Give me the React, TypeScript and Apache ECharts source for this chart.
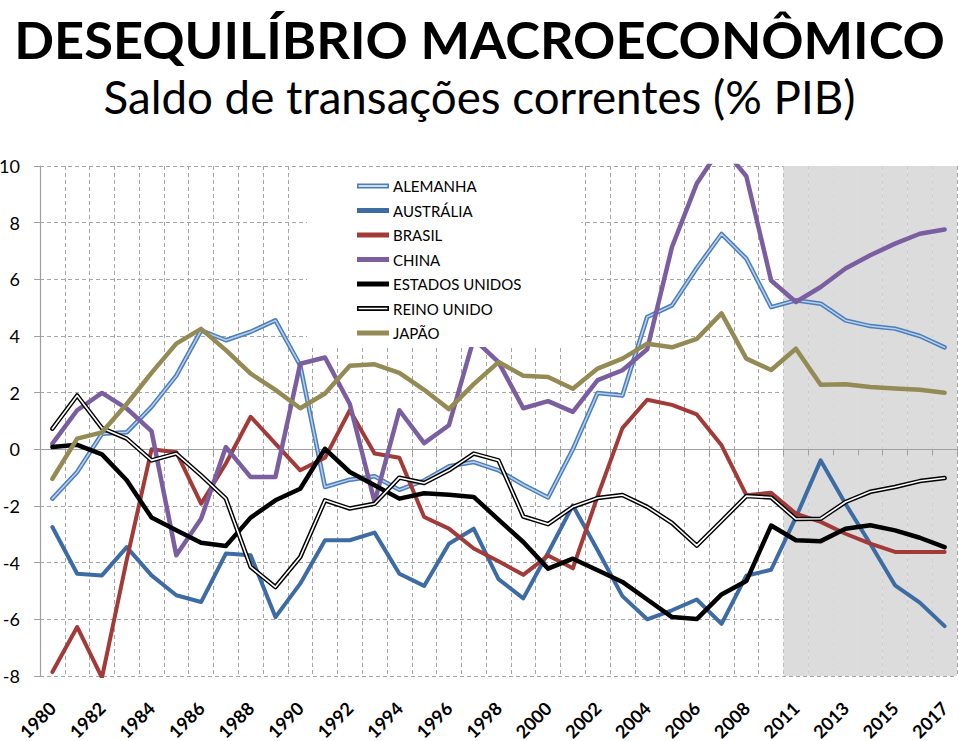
import React, { useEffect, useRef } from "react";
import * as echarts from "echarts";

const CATEGORIES = [
  "1980", "1981", "1982", "1983", "1984", "1985", "1986", "1987", "1988", "1989",
  "1990", "1991", "1992", "1993", "1994", "1995", "1996", "1997", "1998", "1999",
  "2000", "2001", "2002", "2003", "2004", "2005", "2006", "2007", "2008", "2010",
  "2011", "2012", "2013", "2014", "2015", "2016", "2017",
];

const ALEMANHA = [-1.74, -0.8, 0.55, 0.6, 1.5, 2.6, 4.2, 3.85, 4.15, 4.55, 2.96, -1.33, -1.07, -0.95, -1.43, -1.1, -0.6, -0.45, -0.74, -1.25, -1.7, 0.0, 1.99, 1.9, 4.67, 5.08, 6.4, 7.6, 6.73, 5.02, 5.26, 5.14, 4.55, 4.35, 4.26, 4.0, 3.6];
const AUSTRALIA = [-2.74, -4.39, -4.45, -3.45, -4.45, -5.15, -5.39, -3.68, -3.74, -5.92, -4.74, -3.21, -3.21, -2.94, -4.39, -4.82, -3.33, -2.8, -4.58, -5.26, -3.65, -1.98, -3.56, -5.18, -6.0, -5.68, -5.3, -6.16, -4.46, -4.25, -2.4, -0.39, -1.92, -3.33, -4.8, -5.41, -6.24];
const BRASIL = [-7.86, -6.27, -8.06, -3.9, 0.0, -0.1, -1.92, -0.5, 1.15, 0.2, -0.74, -0.3, 1.38, -0.15, -0.3, -2.39, -2.8, -3.5, -3.95, -4.43, -3.75, -4.2, -1.65, 0.75, 1.75, 1.57, 1.23, 0.14, -1.62, -1.53, -2.27, -2.56, -2.98, -3.33, -3.62, -3.62, -3.62];
const CHINA = [0.2, 1.38, 1.99, 1.44, 0.64, -3.74, -2.45, 0.08, -0.98, -0.98, 3.02, 3.24, 1.6, -1.86, 1.38, 0.22, 0.85, 3.9, 3.08, 1.45, 1.7, 1.32, 2.44, 2.79, 3.53, 7.14, 9.38, 10.7, 9.64, 5.96, 5.2, 5.73, 6.38, 6.85, 7.26, 7.61, 7.76];
const ESTADOS_UNIDOS = [0.08, 0.16, -0.18, -1.09, -2.41, -2.86, -3.3, -3.41, -2.41, -1.8, -1.39, 0.02, -0.8, -1.27, -1.74, -1.55, -1.6, -1.68, -2.48, -3.27, -4.21, -3.86, -4.27, -4.68, -5.3, -5.92, -5.99, -5.12, -4.65, -2.69, -3.21, -3.24, -2.8, -2.68, -2.86, -3.12, -3.45];
const REINO_UNIDO = [0.73, 1.9, 0.75, 0.38, -0.39, -0.15, -0.92, -1.74, -4.15, -4.86, -3.8, -1.8, -2.09, -1.92, -1.0, -1.19, -0.74, -0.15, -0.39, -2.37, -2.64, -2.03, -1.72, -1.61, -2.03, -2.6, -3.4, -2.53, -1.65, -1.7, -2.46, -2.45, -1.86, -1.5, -1.33, -1.12, -1.01];
const JAPAO = [-1.04, 0.38, 0.6, 1.6, 2.7, 3.73, 4.25, 3.5, 2.67, 2.1, 1.45, 1.97, 2.95, 3.0, 2.7, 2.1, 1.42, 2.3, 3.08, 2.6, 2.55, 2.14, 2.85, 3.2, 3.73, 3.6, 3.9, 4.8, 3.2, 2.8, 3.55, 2.28, 2.3, 2.2, 2.15, 2.1, 2.0];

const Y_MIN = -8;
const Y_MAX = 10;
const Y_STEP = 2;
const FORECAST_START = "2011";

const TITLE = "DESEQUILÍBRIO MACROECONÔMICO";
const SUBTITLE = "Saldo de transações correntes (% PIB)";

const FONT = "Lato, 'Open Sans', sans-serif";

export default function App() {
  const ref = useRef<HTMLDivElement>(null);

  useEffect(() => {
    document.body.style.margin = "0";
    const chart = echarts.init(ref.current as HTMLDivElement, null, { renderer: "svg" });

    const startIdx = CATEGORIES.indexOf(FORECAST_START);
    const shadeUp = CATEGORIES.map((_, i) => (i >= startIdx ? Y_MAX : null));
    const shadeDown = CATEGORIES.map((_, i) => (i >= startIdx ? Y_MIN : null));

    const line = (name: string, data: number[], color: string, width: number) => ({
      type: "line",
      name,
      data,
      symbol: "none",
      showSymbol: false,
      color,
      itemStyle: { color },
      lineStyle: { color, width, cap: "round", join: "round" },
      z: 3,
      silent: true,
      emphasis: { disabled: true },
    });

    const dblIcon = "path://M0,0H32V5H0Z M1.6,1.7V3.3H30.4V1.7Z";
    const sglIcon = "rect";

    const gridColor = "#a6a6a6";
    const axisColor = "#a0a0a0";

    const option: any = {
      animation: false,
      backgroundColor: "#fff",
      title: [
        {
          text: TITLE,
          left: "center",
          top: 7,
          textStyle: { fontFamily: FONT, fontWeight: "bold", fontSize: 52.4, color: "#000" },
        },
        {
          text: SUBTITLE,
          left: "center",
          top: 68,
          textStyle: { fontFamily: FONT, fontWeight: "normal", fontSize: 45.7, color: "#000" },
        },
      ],
      legend: {
        orient: "vertical",
        left: 307,
        top: 167,
        padding: [11, 60, 6, 50],
        backgroundColor: "#fff",
        z: 10,
        itemWidth: 32,
        itemHeight: 5,
        itemGap: 8.5,
        selectedMode: false,
        textStyle: { fontFamily: FONT, fontSize: 15, color: "#000", lineHeight: 16, padding: [0, 0, 0, -1] },
        itemStyle: { borderWidth: 0 },
        data: [
          { name: "ALEMANHA", icon: dblIcon, itemStyle: { color: "#4A7EBB", borderWidth: 0 } },
          { name: "AUSTRÁLIA", icon: sglIcon, itemStyle: { color: "#3D6BA3", borderWidth: 0 } },
          { name: "BRASIL", icon: sglIcon, itemStyle: { color: "#A23B38", borderWidth: 0 } },
          { name: "CHINA", icon: sglIcon, itemStyle: { color: "#7B5EA0", borderWidth: 0 } },
          { name: "ESTADOS UNIDOS", icon: sglIcon, itemStyle: { color: "#000", borderWidth: 0 } },
          { name: "REINO UNIDO", icon: dblIcon, itemStyle: { color: "#000", borderWidth: 0 } },
          { name: "JAPÃO", icon: sglIcon, itemStyle: { color: "#948A54", borderWidth: 0 } },
        ],
      },
      grid: { left: 40, right: 2, top: 166, bottom: 65, containLabel: false, outerBoundsMode: "none" },
      xAxis: [
        {
          type: "category",
          data: CATEGORIES,
          position: "bottom",
          boundaryGap: true,
          axisLine: { show: false, onZero: false },
          axisTick: { show: false },
          axisLabel: {
            interval: 1,
            rotate: 45,
            margin: 29,
            fontFamily: FONT,
            fontWeight: "bold",
            fontSize: 18,
            color: "#000",
          },
          splitLine: {
            show: true,
            interval: 0,
            lineStyle: { color: gridColor, type: [4, 3], width: 1 },
          },
          z: 0,
        },
        {
          type: "category",
          data: CATEGORIES,
          position: "bottom",
          boundaryGap: true,
          axisLine: { show: true, onZero: true, onZeroAxisIndex: 0, lineStyle: { color: axisColor, width: 1.2 } },
          axisTick: { show: true, interval: 0, length: 6, lineStyle: { color: axisColor, width: 1 } },
          axisLabel: { show: false },
          splitLine: { show: false },
          z: 2,
        },
      ],
      yAxis: {
        type: "value",
        min: Y_MIN,
        max: Y_MAX,
        interval: Y_STEP,
        axisLine: { show: true, lineStyle: { color: axisColor, width: 1.2 } },
        axisTick: { show: true, length: 6, lineStyle: { color: axisColor } },
        axisLabel: { fontFamily: FONT, fontSize: 18, color: "#000", margin: 20 },
        splitLine: { show: true, lineStyle: { color: gridColor, type: [4, 3], width: 1 } },
        z: 0,
      },
      series: [
        {
          type: "bar",
          name: "projeção+",
          data: shadeUp,
          stack: "shade",
          barWidth: "100%",
          barCategoryGap: "0%",
          itemStyle: { color: "#dcdcdc" },
          silent: true,
          z: 1,
          xAxisIndex: 0,
        },
        {
          type: "bar",
          name: "projeção-",
          data: shadeDown,
          stack: "shade",
          barWidth: "100%",
          barCategoryGap: "0%",
          itemStyle: { color: "#dcdcdc" },
          silent: true,
          z: 1,
          xAxisIndex: 0,
        },
        line("ALEMANHA", ALEMANHA, "#4A7EBB", 4.5),
        { ...line("ALEMANHA_interna", ALEMANHA, "#B9D0EA", 1.5) },
        line("AUSTRÁLIA", AUSTRALIA, "#3D6BA3", 4),
        line("BRASIL", BRASIL, "#A23B38", 4),
        line("CHINA", CHINA, "#7B5EA0", 4.5),
        line("ESTADOS UNIDOS", ESTADOS_UNIDOS, "#000000", 4.5),
        line("REINO UNIDO", REINO_UNIDO, "#000000", 4.5),
        { ...line("REINO_UNIDO_interna", REINO_UNIDO, "#ffffff", 1.6) },
        line("JAPÃO", JAPAO, "#948A54", 4.5),
      ],
    };

    chart.setOption(option);
    return () => chart.dispose();
  }, []);

  return <div ref={ref} style={{ width: 959, height: 741 }} />;
}
